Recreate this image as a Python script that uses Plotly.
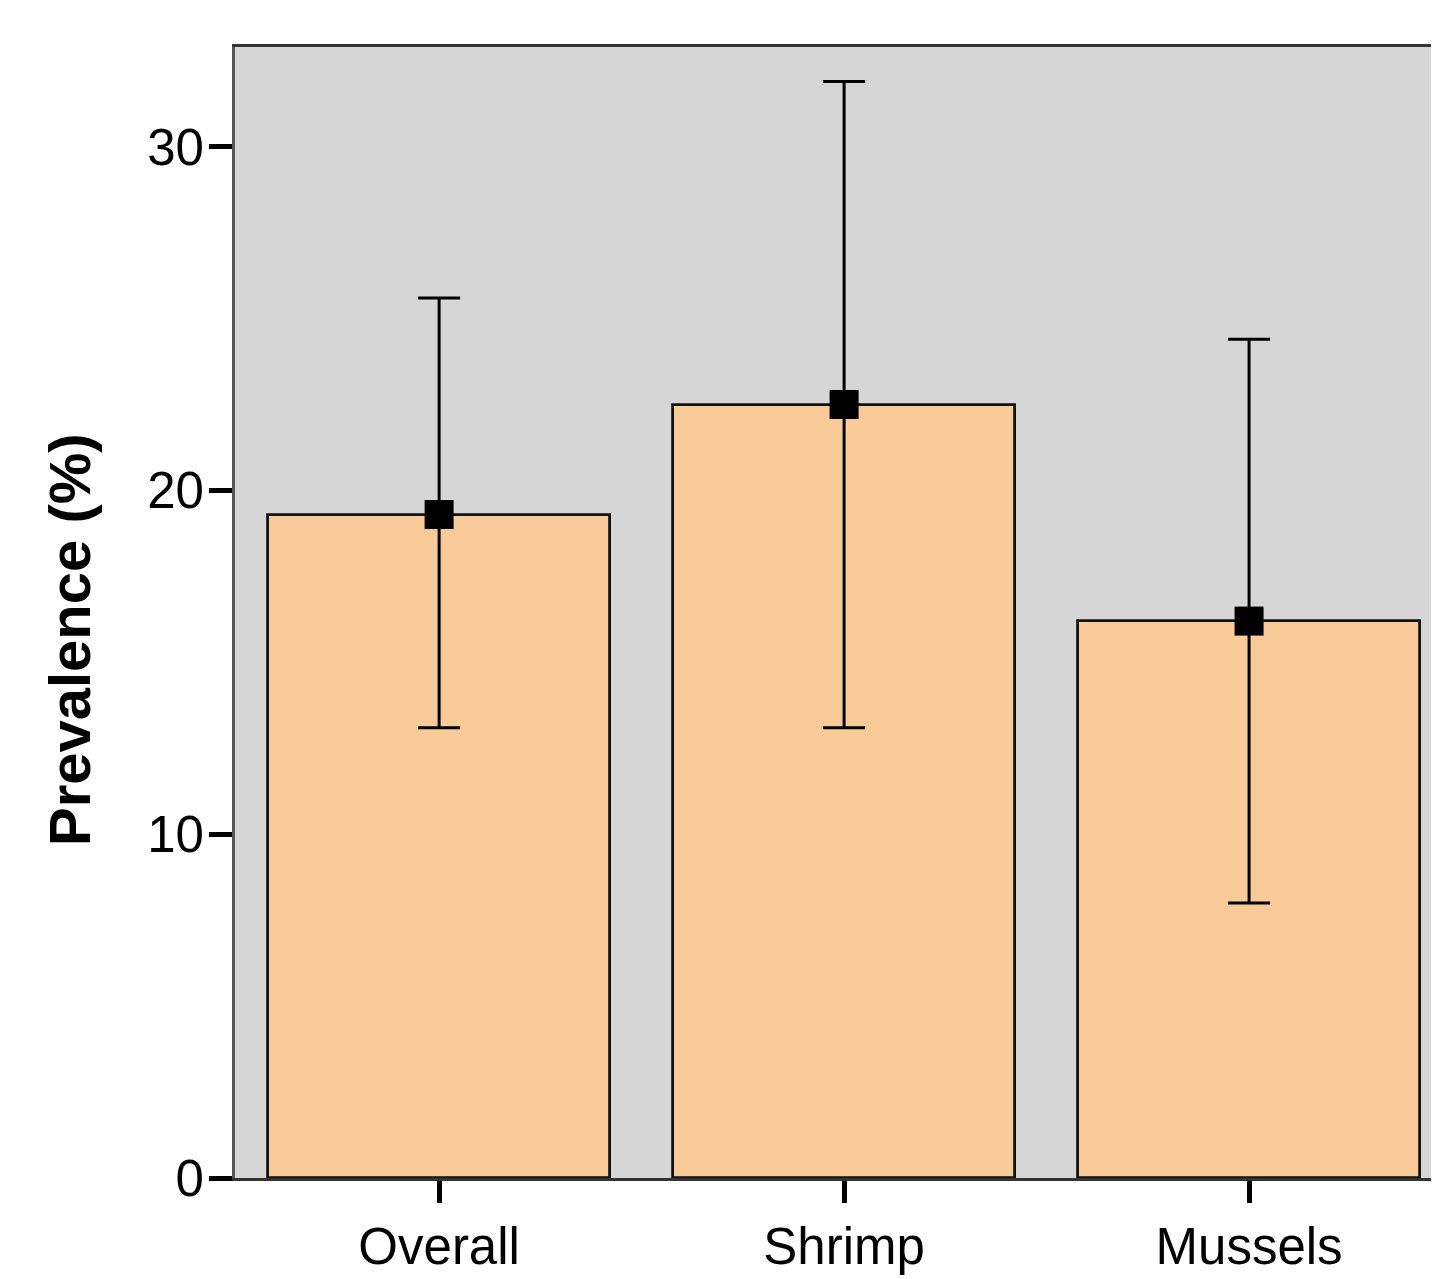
import plotly.graph_objects as go

categories = ["Overall", "Shrimp", "Mussels"]
prevalence = [19.3, 22.5, 16.2]
ci_lower = [13.1, 13.1, 8.0]
ci_upper = [25.6, 31.9, 24.4]

err_plus = [u - v for u, v in zip(ci_upper, prevalence)]
err_minus = [v - l for v, l in zip(prevalence, ci_lower)]

FONT = "Arial, Liberation Sans, sans-serif"

fig = go.Figure()
fig.add_trace(go.Bar(
    x=categories, y=prevalence, width=0.844,
    marker=dict(color="#f9cb98", line=dict(color="#111111", width=2.8)),
    showlegend=False, hoverinfo="skip",
))
fig.add_trace(go.Scatter(
    x=categories, y=prevalence, mode="markers",
    marker=dict(symbol="square", size=29, color="black"),
    error_y=dict(type="data", symmetric=False, array=err_plus, arrayminus=err_minus,
                 color="black", thickness=3, width=21),
    showlegend=False,
))

fig.update_layout(
    width=1431, height=1271,
    margin=dict(l=227, r=0, t=39, b=101, autoexpand=False),
    paper_bgcolor="white", plot_bgcolor="#d6d6d6",
    font=dict(family=FONT, size=51, color="black"),
    bargap=0,
)
fig.update_xaxes(
    range=[-0.504, 2.469], showgrid=False, zeroline=False, automargin=False,
    showline=True, linecolor="#333333", linewidth=2.8, mirror=True,
    ticks="outside", ticklen=22, tickwidth=5, tickcolor="black",
    tickfont=dict(size=51, family=FONT), ticklabelstandoff=0,
)
fig.update_yaxes(
    range=[0, 32.9], showgrid=False, zeroline=False, automargin=False,
    showline=True, linecolor="#555555", linewidth=2.8, mirror=True,
    tickvals=[0, 10, 20, 30],
    ticks="outside", ticklen=23, tickwidth=5, tickcolor="black",
    tickfont=dict(size=51, family=FONT), ticklabelstandoff=-5,
)
fig.add_annotation(
    text="<b>Prevalence (%)</b>", textangle=-90,
    xref="paper", yref="paper", x=-0.137, y=0.4757,
    xanchor="center", yanchor="middle", showarrow=False,
    font=dict(size=58, family=FONT, color="black"),
)

fig.write_html("out.html")
